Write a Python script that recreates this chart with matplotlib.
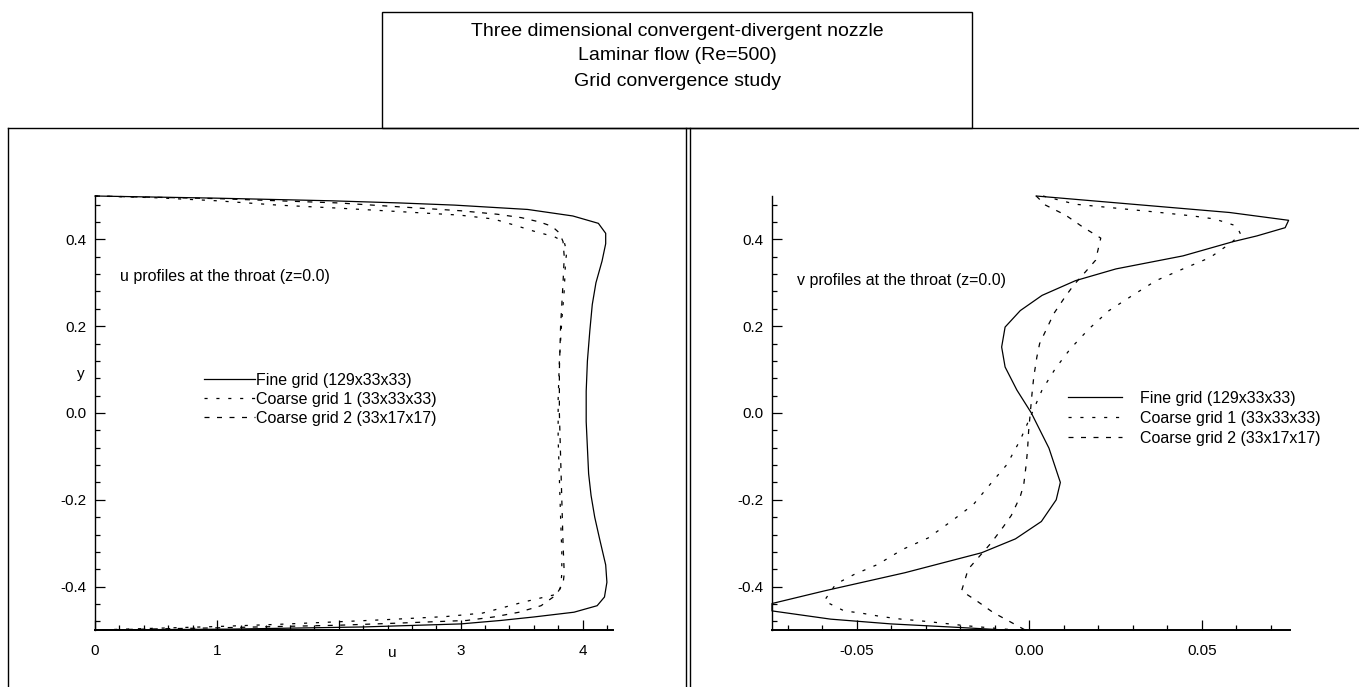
import matplotlib.pyplot as plt
from matplotlib.lines import Line2D
from matplotlib.patches import Rectangle
from matplotlib.ticker import MultipleLocator, FormatStrFormatter

plt.rcParams["font.family"] = ["Liberation Sans", "DejaVu Sans"]
plt.rcParams["axes.unicode_minus"] = False

W, H = 1359, 687

title_lines = [
    "Three dimensional convergent-divergent nozzle",
    "Laminar flow (Re=500)",
    "Grid convergence study",
]
legend_labels = [
    "Fine grid (129x33x33)",
    "Coarse grid 1 (33x33x33)",
    "Coarse grid 2 (33x17x17)",
]

# u profiles at the throat
u_fine_y = [0.5, 0.495, 0.489, 0.484, 0.479, 0.469, 0.454, 0.437, 0.414, 0.39, 0.35,
            0.30, 0.25, 0.19, 0.12, 0.05, -0.02, -0.08, -0.14, -0.19, -0.24, -0.29,
            -0.35, -0.39, -0.424, -0.444, -0.459, -0.47, -0.478, -0.486, -0.493, -0.498, -0.5]
u_fine = [0.0, 1.0, 1.93, 2.5, 2.95, 3.55, 3.92, 4.13, 4.19, 4.19, 4.16,
          4.11, 4.08, 4.06, 4.04, 4.03, 4.03, 4.04, 4.05, 4.07, 4.1, 4.14,
          4.19, 4.2, 4.18, 4.12, 3.93, 3.6, 3.33, 3.0, 2.2, 1.1, 0.0]

u_c1_y = [0.5, 0.496, 0.489, 0.479, 0.472, 0.464, 0.456, 0.447, 0.433, 0.419, 0.406,
          0.394, 0.371, 0.345, 0.283, 0.214, 0.12, 0.03, -0.06, -0.15, -0.24, -0.32,
          -0.37, -0.40, -0.417, -0.424, -0.436, -0.449, -0.461, -0.469, -0.476, -0.481,
          -0.487, -0.492, -0.496, -0.5]
u_c1 = [0.0, 0.5, 1.0, 1.5, 2.0, 2.5, 2.99, 3.27, 3.44, 3.6, 3.77,
        3.85, 3.87, 3.86, 3.85, 3.83, 3.81, 3.80, 3.80, 3.81, 3.82, 3.83,
        3.83, 3.82, 3.80, 3.69, 3.51, 3.34, 3.18, 2.88, 2.4, 2.0,
        1.5, 1.0, 0.5, 0.0]

u_c2_y = [0.5, 0.494, 0.484, 0.466, 0.458, 0.45, 0.44, 0.43, 0.415, 0.395, 0.36,
          0.30, 0.20, 0.10, 0.0, -0.10, -0.20, -0.30, -0.37, -0.394, -0.42, -0.444,
          -0.459, -0.47, -0.478, -0.484, -0.489, -0.495, -0.5]
u_c2 = [0.0, 1.0, 2.0, 3.0, 3.3, 3.5, 3.65, 3.75, 3.81, 3.84, 3.85,
        3.84, 3.82, 3.81, 3.81, 3.82, 3.83, 3.84, 3.85, 3.84, 3.78, 3.66,
        3.48, 3.27, 3.05, 2.5, 2.0, 1.0, 0.0]

# v profiles at the throat
v_fine_y = [0.5, 0.462, 0.444, 0.427, 0.408, 0.395, 0.362, 0.332, 0.305, 0.271, 0.236,
            0.198, 0.152, 0.106, 0.053, 0.0, -0.081, -0.16, -0.2, -0.25, -0.29, -0.322,
            -0.368, -0.41, -0.439, -0.456, -0.475, -0.486, -0.494, -0.5, -0.5]
v_fine = [0.002, 0.058, 0.0751, 0.0741, 0.0659, 0.0591, 0.0445, 0.0251, 0.0134, 0.0037, -0.0026,
          -0.007, -0.008, -0.007, -0.0036, 0.0006, 0.0057, 0.009, 0.0078, 0.0035, -0.004, -0.0138,
          -0.036, -0.0594, -0.0745, -0.0745, -0.0575, -0.04, -0.0206, -0.007, -0.001]

v_c1_y = [0.5, 0.481, 0.472, 0.463, 0.454, 0.447, 0.431, 0.412, 0.393, 0.358, 0.332,
          0.305, 0.271, 0.236, 0.194, 0.148, 0.103, 0.053, 0.0, -0.062, -0.119, -0.165,
          -0.211, -0.249, -0.288, -0.314, -0.349, -0.372, -0.394, -0.433, -0.456, -0.461,
          -0.469, -0.475, -0.479, -0.484, -0.49, -0.494, -0.5]
v_c1 = [0.004, 0.0134, 0.0251, 0.0367, 0.0474, 0.0537, 0.06, 0.0612, 0.0586, 0.0523, 0.0445,
        0.0367, 0.0299, 0.0231, 0.0173, 0.0119, 0.0076, 0.0037, 0.0008, -0.0026, -0.0065, -0.0114,
        -0.0162, -0.0225, -0.0293, -0.0366, -0.0439, -0.0507, -0.056, -0.0594, -0.0536, -0.0487,
        -0.0429, -0.0371, -0.0313, -0.0254, -0.0186, -0.0128, -0.004]

v_c2_y = [0.5, 0.479, 0.456, 0.429, 0.403, 0.352, 0.33, 0.295, 0.268, 0.229, 0.202,
          0.16, 0.129, 0.083, 0.045, -0.043, -0.085, -0.119, -0.165, -0.192, -0.236,
          -0.262, -0.299, -0.36, -0.41, -0.433, -0.46, -0.479, -0.5]
v_c2 = [0.002, 0.0047, 0.0105, 0.0154, 0.0207, 0.0192, 0.0168, 0.0129, 0.0104, 0.0071, 0.0055,
        0.003, 0.0022, 0.0013, 0.0008, -0.0002, -0.0005, -0.0009, -0.0016, -0.0026, -0.0052,
        -0.0075, -0.011, -0.0177, -0.0196, -0.0152, -0.0104, -0.006, -0.0012]


def fx(x):
    return x / W


def fy(y):
    return 1 - y / H


fig = plt.figure(figsize=(W / 100, H / 100), dpi=100)

# panel frames and title box
frame = dict(color="black", lw=1.0, transform=fig.transFigure)
fig.add_artist(Line2D([fx(8), fx(1359)], [fy(128), fy(128)], **frame))
fig.add_artist(Line2D([fx(8), fx(8)], [fy(128), fy(687)], **frame))
fig.add_artist(Line2D([fx(686), fx(686)], [fy(128), fy(687)], **frame))
fig.add_artist(Line2D([fx(690), fx(690)], [fy(128), fy(687)], **frame))
fig.add_artist(Rectangle((fx(382), fy(128)), fx(972) - fx(382), fy(12) - fy(128),
                         fill=False, ec="black", lw=1.0, transform=fig.transFigure))
for txt, yy in zip(title_lines, [31, 56, 81]):
    fig.text(fx(677), fy(yy), txt, ha="center", va="center", fontsize=14)

styles = [
    dict(color="black", lw=0.9, linestyle="-"),
    dict(color="black", lw=0.9, linestyle=(0, (2.5, 7))),
    dict(color="black", lw=0.9, linestyle=(0, (4, 6))),
]


def style_axes(ax):
    for side in ["top", "right"]:
        ax.spines[side].set_visible(False)
    ax.spines["left"].set_linewidth(1.0)
    ax.spines["bottom"].set_linewidth(1.4)
    ax.tick_params(which="both", direction="in", labelsize=11, width=0.9)
    ax.tick_params(which="major", length=7)
    ax.tick_params(which="minor", length=3.5)
    ax.tick_params(axis="x", pad=10)
    ax.tick_params(axis="y", pad=6)
    ax.set_ylim(-0.5, 0.5)
    ax.yaxis.set_major_locator(MultipleLocator(0.2))
    ax.yaxis.set_minor_locator(MultipleLocator(0.04))
    ax.yaxis.set_major_formatter(FormatStrFormatter("%.1f"))


# left: u profiles
ax1 = fig.add_axes([fx(95), fy(630), (613 - 95) / W, (630 - 196) / H])
style_axes(ax1)
ax1.plot(u_fine, u_fine_y, label=legend_labels[0], clip_on=False, **styles[0])
ax1.plot(u_c1, u_c1_y, label=legend_labels[1], clip_on=False, **styles[1])
ax1.plot(u_c2, u_c2_y, label=legend_labels[2], clip_on=False, **styles[2])
ax1.set_xlim(0, 4.25)
ax1.xaxis.set_major_locator(MultipleLocator(1))
ax1.xaxis.set_minor_locator(MultipleLocator(0.2))
ax1.set_xlabel("u", fontsize=11, va="center")
ax1.xaxis.set_label_coords((392 - 95) / 518, (630 - 653) / 434)
ax1.set_ylabel("y", fontsize=11, rotation=0, va="center")
ax1.yaxis.set_label_coords((81 - 95) / 518, (630 - 374) / 434)
fig.text(fx(120), fy(277), "u profiles at the throat (z=0.0)", fontsize=11.5, va="center")
ax1.legend(loc="upper left", bbox_to_anchor=(fx(204), fy(373)), bbox_transform=fig.transFigure,
           frameon=False, fontsize=11.5, handlelength=3.2, handletextpad=0.05,
           labelspacing=0.25, borderpad=0, borderaxespad=0)

# right: v profiles
ax2 = fig.add_axes([fx(772), fy(630), (1290 - 772) / W, (630 - 196) / H])
style_axes(ax2)
ax2.plot(v_fine, v_fine_y, label=legend_labels[0], clip_on=False, **styles[0])
ax2.plot(v_c1, v_c1_y, label=legend_labels[1], clip_on=False, **styles[1])
ax2.plot(v_c2, v_c2_y, label=legend_labels[2], clip_on=False, **styles[2])
ax2.set_xlim(-0.0745, 0.0755)
ax2.xaxis.set_major_locator(MultipleLocator(0.05))
ax2.xaxis.set_minor_locator(MultipleLocator(0.01))
ax2.xaxis.set_major_formatter(FormatStrFormatter("%.2f"))
fig.text(fx(797), fy(281), "v profiles at the throat (z=0.0)", fontsize=11.5, va="center")
ax2.legend(loc="upper left", bbox_to_anchor=(fx(1068), fy(391)), bbox_transform=fig.transFigure,
           frameon=False, fontsize=11.5, handlelength=3.4, handletextpad=1.1,
           labelspacing=0.3, borderpad=0, borderaxespad=0)

plt.savefig("out.png", dpi=100)
